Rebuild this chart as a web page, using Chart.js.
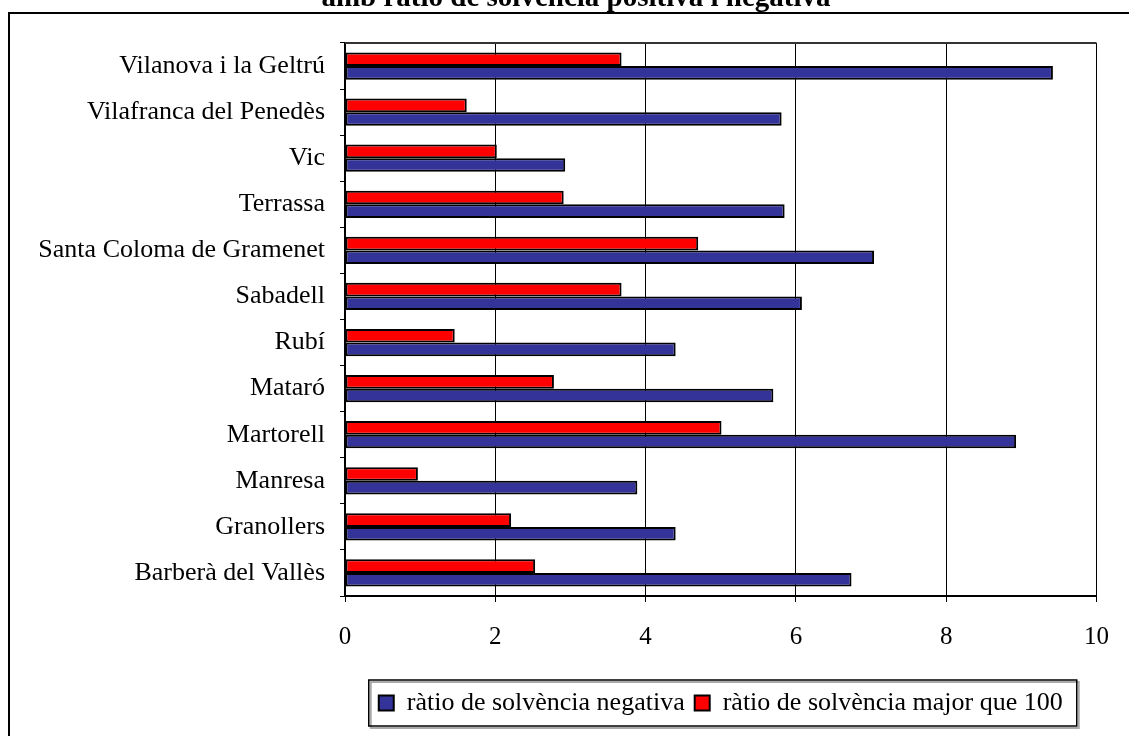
<!DOCTYPE html>
<html>
<head>
<meta charset="utf-8">
<script src="https://cdn.jsdelivr.net/npm/chart.js@4.4.1/dist/chart.umd.min.js"></script>
<style>
	html, body { margin: 0; padding: 0; background: #fff; overflow: hidden; }
	#wrap { position: relative; width: 1129px; height: 736px; }
</style>
</head>
<body>
<div id="wrap"><canvas id="chart" width="1129" height="736"></canvas></div>
<script>
const titleText = 'amb ràtio de solvència positiva i negativa';

const municipis = [
	'Vilanova i la Geltrú',
	'Vilafranca del Penedès',
	'Vic',
	'Terrassa',
	'Santa Coloma de Gramenet',
	'Sabadell',
	'Rubí',
	'Mataró',
	'Martorell',
	'Manresa',
	'Granollers',
	'Barberà del Vallès',
];

const ratioNegativa = [9.42, 5.81, 2.93, 5.85, 7.04, 6.08, 4.40, 5.70, 8.93, 3.89, 4.40, 6.74];
const ratioMajor100 = [3.68, 1.62, 2.02, 2.91, 4.70, 3.68, 1.46, 2.78, 5.01, 0.97, 2.21, 2.53];

const xMin = 0;
const xMax = 10;
const xStep = 2;

const serif = '"Liberation Serif", "Times New Roman", serif';

// frame, plot top line, title and legend box
const decorPlugin = {
	id: 'decor',
	afterUpdate(chart) {
		// center the legend under the plot area, not the whole canvas
		let legend = chart.legend;
		let shift = ((chart.chartArea.left + chart.chartArea.right) - (legend.left + legend.right)) / 2;
		legend.left += shift;
		legend.right += shift;
		for (let box of legend.legendHitBoxes) {
			box.left += shift;
		}
	},
	afterDraw(chart) {
		const ctx = chart.ctx;
		const area = chart.chartArea;
		ctx.save();

		ctx.strokeStyle = '#000';
		ctx.lineWidth = 2;
		ctx.beginPath();
		ctx.moveTo(1129, 13);
		ctx.lineTo(9, 13);
		ctx.lineTo(9, 736);
		ctx.stroke();

		ctx.strokeStyle = '#333';
		ctx.lineWidth = 2;
		ctx.beginPath();
		ctx.moveTo(area.left, area.top);
		ctx.lineTo(area.right, area.top);
		ctx.stroke();

		ctx.fillStyle = '#000';
		ctx.font = 'bold 29px ' + serif;
		ctx.textAlign = 'center';
		ctx.textBaseline = 'alphabetic';
		ctx.fillText(titleText, 576, 6);

		let boxes = chart.legend.legendHitBoxes;
		if (boxes && boxes.length) {
			let left = Math.min(...boxes.map(b => b.left)) - 10;
			let right = Math.max(...boxes.map(b => b.left + b.width)) + 14;
			let top = boxes[0].top - 10;
			let height = boxes[0].height + 20;
			ctx.strokeStyle = '#aaa';
			ctx.lineWidth = 2;
			ctx.strokeRect(left + 2, top + 2, right - left, height);
			ctx.strokeStyle = '#000';
			ctx.lineWidth = 1.5;
			ctx.strokeRect(left, top, right - left, height);
		}
		ctx.restore();
	}
};

const ctx = document.getElementById('chart');
new Chart(ctx, {
	type: 'bar',
	data: {
		labels: municipis,
		datasets: [{
			label: 'ràtio de solvència major que 100',
			data: ratioMajor100,
			backgroundColor: '#ff0000',
			borderColor: '#000',
			borderWidth: 2,
			borderSkipped: false,
		}, {
			label: 'ràtio de solvència negativa',
			data: ratioNegativa,
			backgroundColor: '#333399',
			borderColor: '#000',
			borderWidth: 2,
			borderSkipped: false,
		}]
	},
	options: {
		indexAxis: 'y',
		responsive: false,
		animation: false,
		categoryPercentage: 0.59,
		barPercentage: 1.0,
		layout: {
			padding: { top: 43, left: 10, right: 32, bottom: 10 }
		},
		scales: {
			x: {
				min: xMin,
				max: xMax,
				afterFit: (scale) => { scale.height = 84; },
				ticks: {
					stepSize: xStep,
					color: '#000',
					padding: 20,
					maxRotation: 0,
					font: { family: serif, size: 25 },
				},
				grid: {
					color: '#000',
					lineWidth: 1,
					tickLength: 6,
					drawTicks: true,
				},
				border: { color: '#000', width: 2 },
			},
			y: {
				afterFit: (scale) => { scale.width = 335; },
				ticks: {
					color: '#000',
					padding: 15,
					autoSkip: false,
					font: { family: serif, size: 26 },
				},
				grid: {
					offset: true,
					drawOnChartArea: false,
					color: '#000',
					tickLength: 5,
				},
				border: { color: '#000', width: 2 },
			}
		},
		plugins: {
			legend: {
				position: 'bottom',
				labels: {
					color: '#000',
					boxWidth: 15,
					boxHeight: 15,
					padding: 10,
					font: { family: serif, size: 26 },
					sort: (a, b) => b.datasetIndex - a.datasetIndex,
				}
			},
			tooltip: { enabled: false },
		}
	},
	plugins: [decorPlugin]
});
</script>
</body>
</html>
